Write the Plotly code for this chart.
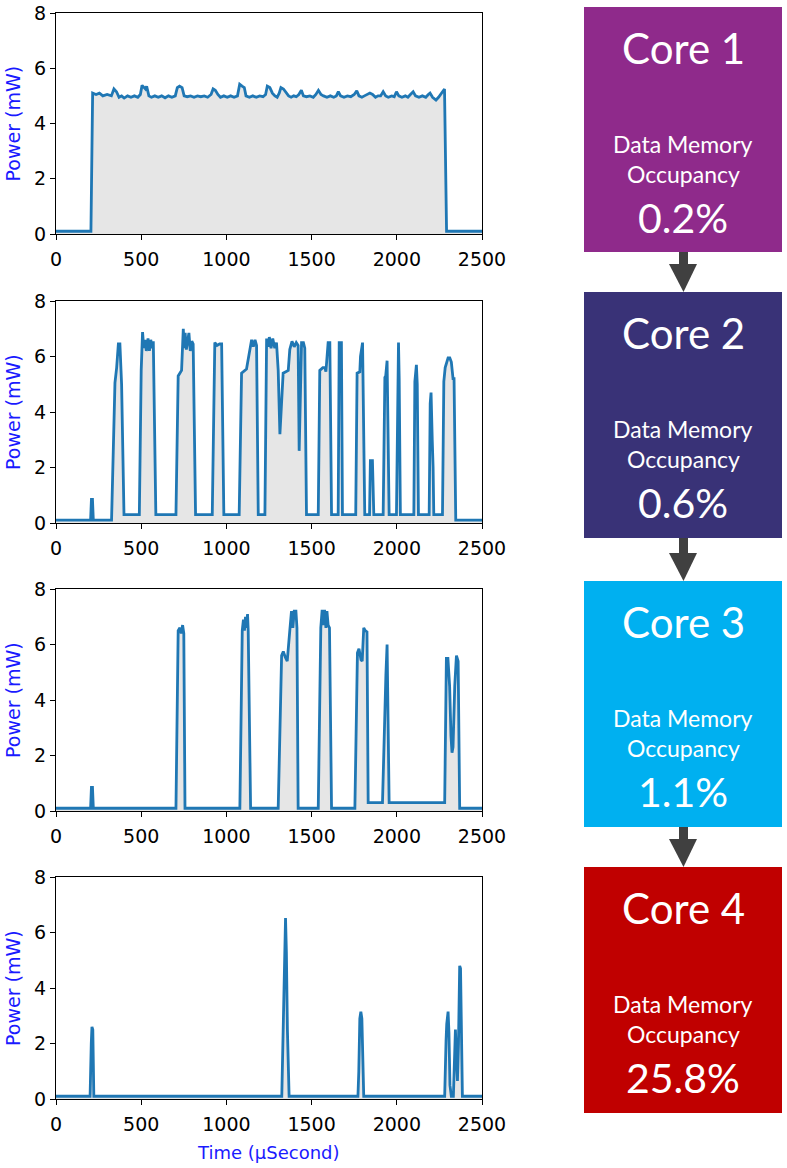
import plotly.graph_objects as go

W, H = 787, 1168

# ---------------- data ----------------
core1_t = [0, 205, 215, 235, 255, 275, 300, 325, 340, 355, 370, 385, 400, 420, 440, 460, 480, 495, 505, 515, 525, 532,
           545, 560, 580, 600, 620, 640, 660, 680, 700, 712, 725, 740, 752, 770, 790, 810, 830, 850, 870, 890, 910,
           922, 935, 950, 965, 985, 1005, 1025, 1045, 1065, 1078, 1092, 1105, 1115, 1135, 1155, 1175, 1195, 1215,
           1230, 1240, 1255, 1270, 1285, 1298, 1310, 1320, 1335, 1350, 1365, 1380, 1395, 1410, 1425, 1440, 1452,
           1470, 1490, 1510, 1525, 1540, 1555, 1570, 1590, 1610, 1630, 1645, 1657, 1670, 1690, 1710, 1730, 1750,
           1765, 1778, 1795, 1810, 1825, 1842, 1858, 1875, 1890, 1905, 1920, 1935, 1950, 1970, 1985, 1998, 2012,
           2030, 2050, 2065, 2080, 2096, 2110, 2130, 2150, 2170, 2185, 2195, 2210, 2230, 2245, 2260, 2280, 2292, 2500]
core1_p = [0.1, 0.1, 5.1, 5.05, 5.1, 5.0, 5.05, 5.0, 5.25, 5.15, 4.95, 5.0, 4.92, 5.0, 4.95, 5.0, 4.95, 5.05, 5.38, 5.3,
           5.25, 5.35, 5.0, 4.95, 5.0, 4.95, 5.0, 4.93, 5.0, 4.95, 5.0, 5.3, 5.35, 5.3, 5.0, 4.97, 5.0, 4.95, 5.0, 4.97,
           5.0, 4.95, 5.05, 5.25, 5.2, 5.05, 4.95, 5.0, 4.95, 5.0, 4.95, 5.0, 5.42, 5.35, 5.3, 5.0, 4.95, 5.0, 4.95,
           5.0, 4.97, 5.05, 5.35, 5.3, 5.1, 5.0, 4.95, 5.1, 5.3, 5.25, 5.1, 5.0, 4.95, 5.0, 4.97, 5.05, 5.2, 5.0,
           4.97, 5.0, 4.95, 5.05, 5.2, 5.05, 5.0, 4.95, 5.0, 4.95, 5.0, 5.15, 5.0, 4.95, 5.0, 4.97, 5.05, 5.18, 5.0,
           4.95, 5.0, 5.05, 5.1, 5.05, 4.95, 5.0, 5.0, 5.15, 5.0, 4.95, 5.0, 4.97, 5.15, 5.0, 4.95, 5.0, 4.95, 5.05,
           5.15, 5.0, 4.95, 5.0, 4.95, 5.05, 5.1, 4.95, 4.85, 4.95, 5.1, 5.25, 0.1, 0.1]

core2_t = [0, 203, 208, 214, 219, 326, 346, 356, 366, 375, 385, 399, 489, 500, 508, 515, 522, 530, 540, 548, 556, 565,
           571, 586, 704, 717, 737, 747, 752, 758, 765, 772, 780, 788, 797, 805, 819, 917, 932, 945, 960, 972, 985,
           1075, 1089, 1118, 1138, 1148, 1158, 1168, 1177, 1187, 1196, 1226, 1236, 1244, 1252, 1262, 1272, 1284,
           1294, 1304, 1314, 1322, 1333, 1363, 1372, 1385, 1398, 1410, 1421, 1427, 1435, 1441, 1452, 1460, 1470,
           1539, 1548, 1566, 1578, 1584, 1597, 1607, 1617, 1656, 1662, 1675, 1681, 1759, 1767, 1783, 1787, 1799,
           1812, 1840, 1845, 1857, 1865, 1920, 1930, 1935, 1943, 1955, 1998, 2004, 2010, 2014, 2021, 2100, 2106,
           2115, 2120, 2127, 2190, 2196, 2201, 2208, 2213, 2217, 2268, 2276, 2284, 2301, 2311, 2320, 2330, 2336,
           2346, 2500]
core2_p = [0.1, 0.1, 0.85, 0.85, 0.1, 0.1, 5.05, 5.6, 6.45, 6.45, 5.0, 0.3, 0.3, 5.5, 6.88, 6.3, 6.6, 6.2, 6.65, 6.2,
           6.6, 6.3, 6.55, 0.3, 0.3, 5.3, 5.5, 7.0, 6.3, 6.85, 6.25, 6.6, 6.85, 6.2, 6.55, 6.45, 0.3, 0.3, 6.5, 6.4,
           6.45, 6.45, 0.3, 0.3, 5.4, 5.55, 6.3, 6.6, 6.35, 6.6, 6.4, 0.3, 0.3, 0.3, 6.65, 6.35, 6.7, 6.3, 6.65, 6.3,
           6.5, 5.5, 3.2, 4.2, 5.4, 5.5, 6.25, 6.55, 6.35, 6.5, 6.4, 2.6, 5.0, 6.5, 6.5, 6.3, 0.3, 0.3, 5.5, 5.6, 5.6,
           5.45, 6.5, 6.5, 0.3, 0.3, 6.5, 6.5, 0.3, 0.3, 5.4, 5.45, 6.0, 6.5, 0.3, 0.3, 2.25, 2.25, 0.3, 0.3, 5.25,
           5.3, 5.85, 0.3, 0.3, 5.0, 6.5, 5.2, 0.3, 0.3, 5.1, 5.7, 5.0, 0.3, 0.3, 4.3, 4.7, 3.0, 2.0, 0.3, 0.3, 5.1,
           5.6, 5.95, 5.95, 5.8, 5.2, 5.2, 0.1, 0.1]

core3_t = [0, 203, 208, 214, 219, 704, 717, 727, 735, 743, 750, 757, 1079, 1093, 1100, 1106, 1112, 1118, 1124, 1128,
           1142, 1304, 1324, 1334, 1345, 1357, 1372, 1382, 1390, 1398, 1408, 1414, 1421, 1539, 1554, 1562, 1568,
           1576, 1584, 1590, 1597, 1605, 1617, 1754, 1769, 1778, 1790, 1797, 1806, 1815, 1825, 1832, 1916, 1930,
           1936, 1943, 1955, 2281, 2291, 2300, 2310, 2318, 2324, 2330, 2340, 2350, 2360, 2369, 2500]
core3_p = [0.1, 0.1, 0.85, 0.85, 0.1, 0.1, 6.5, 6.6, 6.4, 6.7, 6.4, 0.1, 0.1, 6.5, 6.9, 6.5, 7.0, 6.6, 7.1, 6.5, 0.1,
           0.1, 5.6, 5.75, 5.55, 5.4, 6.5, 7.2, 6.6, 7.2, 7.2, 6.6, 0.1, 0.1, 6.6, 7.25, 6.7, 7.25, 6.6, 7.2, 6.7,
           6.6, 0.1, 0.1, 5.7, 5.85, 5.45, 5.4, 6.6, 6.5, 6.45, 0.3, 0.3, 4.2, 4.9, 6.0, 0.3, 0.3, 5.5, 5.5, 4.5,
           2.7, 2.1, 2.3, 4.5, 5.6, 5.4, 0.1, 0.1]

core4_t = [0, 200, 207, 211, 216, 222, 1325, 1335, 1342, 1347, 1352, 1358, 1368, 1772, 1777, 1783, 1789, 1795, 1806,
           2281, 2289, 2293, 2301, 2306, 2312, 2320, 2332, 2338, 2344, 2350, 2356, 2362, 2369, 2374, 2385, 2500]
core4_p = [0.1, 0.1, 2.0, 2.6, 2.5, 0.1, 0.1, 3.5, 6.3, 6.52, 5.3, 2.5, 0.1, 0.1, 1.0, 2.9, 3.15, 2.9, 0.1,
           0.1, 2.1, 2.7, 3.15, 2.4, 0.5, 0.1, 0.1, 1.8, 2.5, 1.5, 0.65, 2.0, 4.8, 4.7, 0.1, 0.1]

core_labels = ["Core 1", "Core 2", "Core 3", "Core 4"]
occupancy_labels = ["0.2%", "0.6%", "1.1%", "25.8%"]
x_ticks = [0, 500, 1000, 1500, 2000, 2500]
y_ticks = [0, 2, 4, 6, 8]

series = [(core1_t, core1_p), (core2_t, core2_p), (core3_t, core3_p), (core4_t, core4_p)]

# ---------------- layout geometry (pixels) ----------------
plot_left, plot_right = 56, 482
panel_tops = [13, 301, 589, 877]
panel_bottoms = [234, 523, 811, 1099]
box_left, box_right = 584, 782
box_tops = [7, 292, 581, 867]
box_bottoms = [252, 538, 827, 1113]
box_colors = ["#8F2A8B", "#393277", "#00B0F0", "#C00000"]


def px(x):
    return x / W


def py(y):
    return 1 - y / H


fig = go.Figure()
layout = dict(
    width=W, height=H, autosize=False,
    margin=dict(l=0, r=0, t=0, b=0, pad=0, autoexpand=False),
    paper_bgcolor="white", plot_bgcolor="white",
    showlegend=False,
    font=dict(family="DejaVu Sans", color="black", size=19),
)

for i, (t, p) in enumerate(series):
    xa = "x" if i == 0 else f"x{i+1}"
    ya = "y" if i == 0 else f"y{i+1}"
    fig.add_trace(go.Scatter(
        x=t, y=p, mode="lines", xaxis=xa, yaxis=ya,
        line=dict(color="#1f77b4", width=2.8),
        fill="tozeroy", fillcolor="#e6e6e6",
        hoverinfo="skip",
    ))
    xkey = "xaxis" if i == 0 else f"xaxis{i+1}"
    ykey = "yaxis" if i == 0 else f"yaxis{i+1}"
    layout[xkey] = dict(
        domain=[px(plot_left), px(plot_right)], anchor=ya, automargin=False,
        range=[0, 2500], tickvals=x_ticks, ticktext=[str(v) for v in x_ticks],
        showgrid=False, zeroline=False,
        showline=True, linecolor="black", linewidth=1, mirror=True,
        ticks="outside", ticklen=5, tickcolor="black", tickwidth=1,
        ticklabelstandoff=3,
        tickfont=dict(family="DejaVu Sans", size=19, color="black"),
    )
    layout[ykey] = dict(
        domain=[py(panel_bottoms[i]), py(panel_tops[i])], anchor=xa, automargin=False,
        range=[0, 8], tickvals=y_ticks, ticktext=[str(v) for v in y_ticks],
        showgrid=False, zeroline=False,
        showline=True, linecolor="black", linewidth=1, mirror=True,
        ticks="outside", ticklen=5, tickcolor="black", tickwidth=1,
        tickfont=dict(family="DejaVu Sans", size=19, color="black"),
    )

shapes = []
annotations = []

for i in range(4):
    # y-axis title
    annotations.append(dict(
        xref="paper", yref="paper", x=px(13), y=py((panel_tops[i] + panel_bottoms[i]) / 2),
        text="Power (mW)", textangle=-90, showarrow=False,
        font=dict(family="DejaVu Sans", size=19, color="#1a1aff"),
        xanchor="center", yanchor="middle",
    ))
    # coloured box
    shapes.append(dict(
        type="rect", xref="paper", yref="paper",
        x0=px(box_left), x1=px(box_right), y0=py(box_bottoms[i]), y1=py(box_tops[i]),
        fillcolor=box_colors[i], line=dict(width=0), layer="above",
    ))
    cx = px((box_left + box_right) / 2)
    top = box_tops[i]
    annotations.append(dict(xref="paper", yref="paper", x=cx, y=py(top + 41), text=core_labels[i],
                            showarrow=False, xanchor="center", yanchor="middle",
                            font=dict(family="Lato", size=42, color="white")))
    annotations.append(dict(xref="paper", yref="paper", x=cx, y=py(top + 137), text="Data Memory",
                            showarrow=False, xanchor="center", yanchor="middle",
                            font=dict(family="Lato", size=23, color="white")))
    annotations.append(dict(xref="paper", yref="paper", x=cx, y=py(top + 167), text="Occupancy",
                            showarrow=False, xanchor="center", yanchor="middle",
                            font=dict(family="Lato", size=23, color="white")))
    annotations.append(dict(xref="paper", yref="paper", x=cx, y=py(top + 210), text=occupancy_labels[i],
                            showarrow=False, xanchor="center", yanchor="middle",
                            font=dict(family="Lato", size=41, color="white")))

# arrows between boxes
for i in range(3):
    y_start = box_bottoms[i]
    y_end = box_tops[i + 1]
    head_top = y_end - 28
    shapes.append(dict(
        type="rect", xref="paper", yref="paper",
        x0=px(679), x1=px(688), y0=py(head_top + 1), y1=py(y_start),
        fillcolor="#404040", line=dict(width=0),
    ))
    path = (f"M {px(669)} {py(head_top)} L {px(697)} {py(head_top)} "
            f"L {px(683.5)} {py(y_end)} Z")
    shapes.append(dict(
        type="path", xref="paper", yref="paper", path=path,
        fillcolor="#404040", line=dict(width=0),
    ))

annotations.append(dict(
    xref="paper", yref="paper", x=px(268), y=py(1152), text="Time (µSecond)",
    showarrow=False, xanchor="center", yanchor="middle",
    font=dict(family="DejaVu Sans", size=18, color="#1a1aff"),
))

layout["shapes"] = shapes
layout["annotations"] = annotations
fig.update_layout(**layout)

post = ("document.body.style.margin='0';document.body.style.padding='0';"
        "document.body.style.overflow='hidden';")
fig.write_html("out.html", config={"responsive": False, "displayModeBar": False},
               post_script=post)
